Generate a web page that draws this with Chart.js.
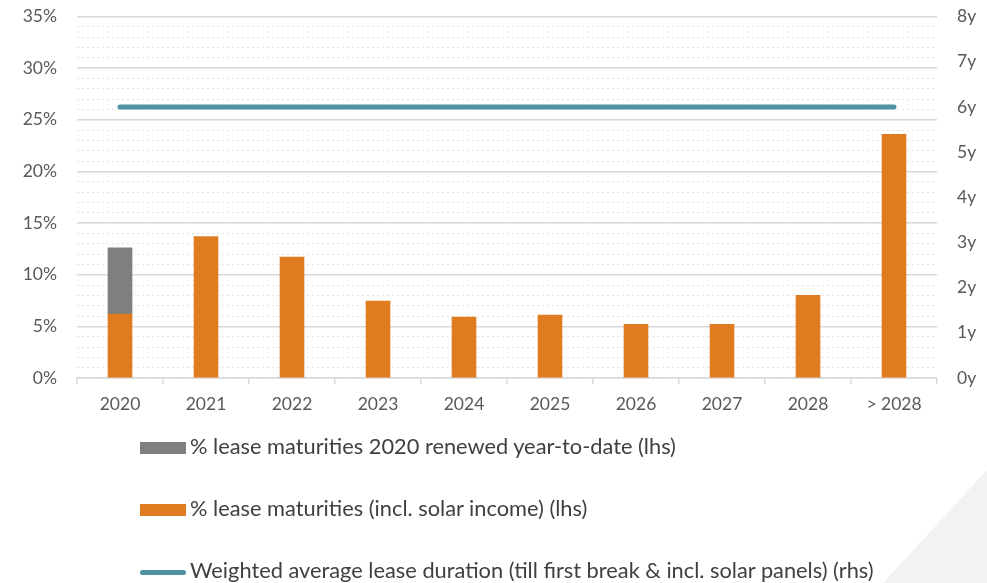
<!DOCTYPE html>
<html>
<head>
<meta charset="utf-8">
<script src="https://cdn.jsdelivr.net/npm/chart.js@4"></script>
<style>
  body { margin: 0; background: #fff; }
  #wrap { position: relative; width: 987px; height: 583px; overflow: hidden; }
  #corner { position: absolute; left: 0; top: 0; width: 987px; height: 583px;
    background: #f3f2f1; clip-path: polygon(883px 583px, 987px 470px, 987px 583px); }
  canvas { position: absolute; left: 0; top: -14px; }
  .leg { position: absolute; left: 140px; font-family: Lato, sans-serif; font-size: 21.8px;
    color: #404040; white-space: nowrap; line-height: 24px; }
  .leg span.box { display: inline-block; width: 46px; height: 12px; vertical-align: middle; margin-right: 4px; }
  .leg span.ln { display: inline-block; width: 46px; height: 5px; border-radius: 3px; vertical-align: middle; margin-right: 4px; }
</style>
</head>
<body>
<div id="wrap">
  <div id="corner"></div>
  <canvas id="chart" width="987" height="597"></canvas>
  <div class="leg" style="top:434px"><span class="box" style="background:#7f7f7f"></span>% lease maturities 2020 renewed year-to-date (lhs)</div>
  <div class="leg" style="top:496px"><span class="box" style="background:#e07b1f"></span>% lease maturities (incl. solar income) (lhs)</div>
  <div class="leg" style="top:558px"><span class="ln" style="background:#4e94a3"></span>Weighted average lease duration (till first break &amp; incl. solar panels) (rhs)</div>
</div>
<script>
const years = ["2020", "2021", "2022", "2023", "2024", "2025", "2026", "2027", "2028", "> 2028"];
const maturities = [6.2, 13.7, 11.7, 7.45, 5.9, 6.1, 5.2, 5.2, 8.0, 23.6];
const renewed = [6.4, null, null, null, null, null, null, null, null, null];
const walt = [6, 6, 6, 6, 6, 6, 6, 6, 6, 6];

const tickFont = { family: "Lato, sans-serif", size: 17.5 };
const tickColor = "#595959";

new Chart(document.getElementById("chart"), {
  data: {
    labels: years,
    datasets: [
      {
        type: "line",
        label: "Weighted average lease duration (till first break & incl. solar panels) (rhs)",
        data: walt,
        yAxisID: "y1",
        borderColor: "#4e94a3",
        borderWidth: 5,
        borderCapStyle: "round",
        pointRadius: 0,
        order: 0
      },
      {
        type: "bar",
        label: "% lease maturities (incl. solar income) (lhs)",
        data: maturities,
        backgroundColor: "#e07b1f",
        yAxisID: "y",
        stack: "s",
        barThickness: 24,
        order: 1
      },
      {
        type: "bar",
        label: "% lease maturities 2020 renewed year-to-date (lhs)",
        data: renewed,
        backgroundColor: "#7f7f7f",
        yAxisID: "y",
        stack: "s",
        barThickness: 24,
        order: 1
      }
    ]
  },
  options: {
    responsive: false,
    animation: false,
    layout: { padding: { top: 2, left: 0, right: 0, bottom: 0 } },
    plugins: { legend: { display: false }, tooltip: { enabled: false } },
    scales: {
      x: {
        stacked: true,
        grid: { drawOnChartArea: false, drawTicks: true, tickLength: 6, color: "#d9d9d9", lineWidth: 1.5, offset: true },
        border: { color: "#d9d9d9", width: 1.5 },
        ticks: { font: tickFont, color: tickColor, padding: 10 },
        afterFit: s => { s.height = 583 - 378; }
      },
      yMinor: {
        position: "left",
        min: 0, max: 35,
        ticks: { display: false, stepSize: 1 },
        grid: { color: "#e3e3e3", lineWidth: 1, drawTicks: false },
        border: { display: false, dash: [2, 3] },
        afterFit: s => { s.width = 0; }
      },
      y: {
        stacked: true,
        position: "left",
        min: 0, max: 35,
        ticks: { stepSize: 5, font: tickFont, color: tickColor, padding: 20, callback: v => v + "%" },
        grid: { color: "#d9d9d9", lineWidth: 1.5, drawTicks: false },
        border: { display: false },
        afterFit: s => { s.width = 77; }
      },
      y1: {
        position: "right",
        min: 0, max: 8,
        ticks: { stepSize: 1, font: tickFont, color: tickColor, padding: 20, callback: v => v + "y" },
        grid: { display: false, drawTicks: false },
        border: { display: false },
        afterFit: s => { s.width = 50; }
      }
    }
  }
});
</script>
</body>
</html>
